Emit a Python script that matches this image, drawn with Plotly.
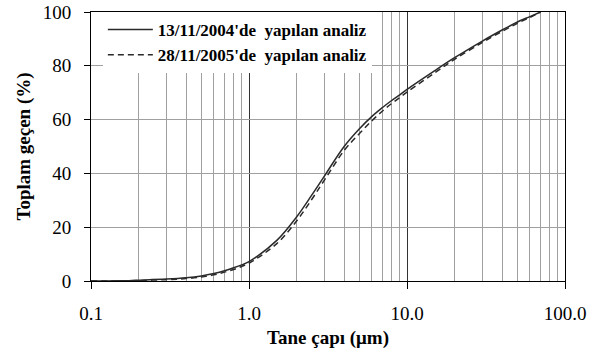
import plotly.graph_objects as go

# Particle size (µm)
size = [0.1, 0.15, 0.2, 0.3, 0.4, 0.5, 0.6, 0.7, 0.8, 0.9, 1.0, 1.5, 2, 2.5, 3, 4, 5, 6, 7, 8, 9, 10, 15, 20, 30, 40, 50, 60, 70]
# Cumulative passing (%) - analysis of 13/11/2004
pass_2004 = [0, 0.05, 0.3, 0.7, 1.2, 1.9, 2.8, 3.8, 4.9, 6.0, 7.2, 15.1, 23.8, 32.0, 39.0, 50.0, 56.6, 61.2, 64.5, 67.1, 69.2, 71.2, 78.2, 83.0, 89.2, 93.3, 96.3, 98.3, 100]
# Cumulative passing (%) - analysis of 28/11/2005
pass_2005 = [0, 0.03, 0.2, 0.5, 0.9, 1.5, 2.3, 3.3, 4.3, 5.4, 6.6, 13.9, 22.3, 30.4, 37.5, 48.5, 54.8, 59.6, 63.2, 66.0, 68.2, 70.2, 77.4, 82.4, 88.7, 92.8, 95.8, 98.0, 100]

series_names = ["13/11/2004'de  yapılan analiz", "28/11/2005'de  yapılan analiz"]

x_ticks = [0.1, 1, 10, 100]
x_ticktext = ["0.1", "1.0", "10.0", "100.0"]
y_ticks = [0, 20, 40, 60, 80, 100]

minor_x = [m * d for d in (0.1, 1, 10) for m in range(2, 10)]

font = "Liberation Serif"

fig = go.Figure()
fig.add_trace(go.Scatter(x=size, y=pass_2004, mode="lines", name=series_names[0],
                         line=dict(color="#2a2a2a", width=1.5, shape="spline", smoothing=1.0)))
fig.add_trace(go.Scatter(x=size, y=pass_2005, mode="lines", name=series_names[1],
                         line=dict(color="#2a2a2a", width=1.5, dash="6px,4px", shape="spline", smoothing=1.0)))

fig.update_layout(
    width=596, height=352,
    margin=dict(l=91, r=31, t=12, b=71),
    paper_bgcolor="white", plot_bgcolor="white",
    font=dict(family=font, size=19, color="black"),
    showlegend=True,
    legend=dict(x=0.025, y=1.0, xanchor="left", yanchor="top",
                bgcolor="white", borderwidth=0,
                font=dict(family=font, size=17, color="black", weight="bold"),
                itemwidth=45, tracegroupgap=0),
)

fig.update_xaxes(
    type="log", range=[-1, 2],
    tickvals=x_ticks, ticktext=x_ticktext,
    ticks="outside", ticklen=7, tickcolor="black", tickwidth=1,
    ticklabelstandoff=8,
    showline=True, linecolor="black", linewidth=1, mirror=True,
    showgrid=True, gridcolor="#333333", gridwidth=1,
    minor=dict(tickvals=minor_x, showgrid=True, gridcolor="#a0a0a0", gridwidth=1, ticks=""),
    zeroline=False, automargin=False,
    tickfont=dict(family=font, size=19),
    title=dict(text="Tane çapı (μm)", font=dict(family=font, size=19, weight="bold"), standoff=7),
)
fig.update_yaxes(
    range=[0, 100], tickvals=y_ticks,
    ticks="outside", ticklen=6, tickcolor="black", tickwidth=1,
    ticklabelstandoff=9,
    showline=True, linecolor="black", linewidth=1, mirror=True,
    showgrid=True, gridcolor="#a0a0a0", gridwidth=1,
    zeroline=False, automargin=False,
    tickfont=dict(family=font, size=19),
    title=dict(text="Toplam geçen (%)", font=dict(family=font, size=19, weight="bold"), standoff=7),
)

fig.write_html("out.html")
